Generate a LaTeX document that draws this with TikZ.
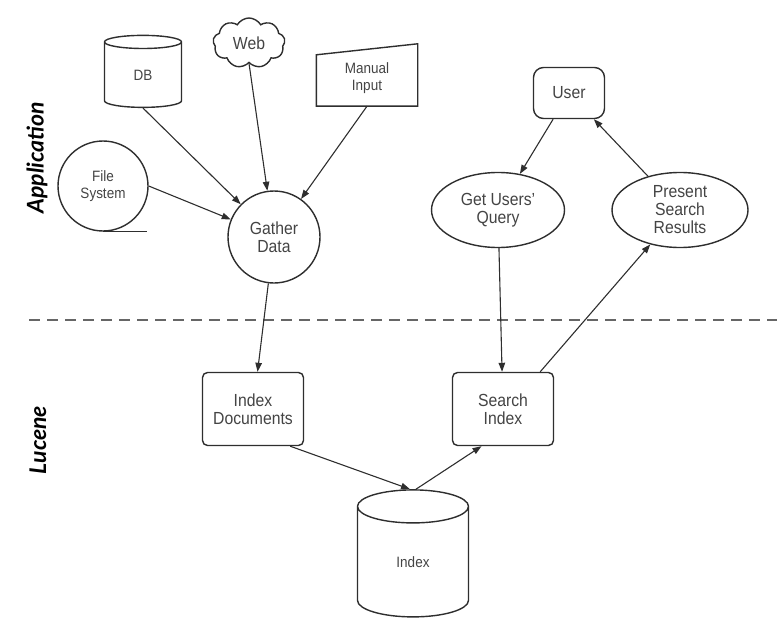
\documentclass[tikz,border=0pt]{standalone}
\usepackage{fontspec}
\setsansfont{Liberation Sans}[FakeStretch=0.9]
\newfontfamily\tierfont{Lato}
\usetikzlibrary{arrows.meta,shapes.geometric,shapes.symbols,backgrounds}

\definecolor{ink}{HTML}{2E2E2E}
\definecolor{word}{HTML}{444444}

\tikzset{
  part/.style={draw=ink, line width=1.4pt, fill=white, inner sep=0pt, align=center, text=word},
  big/.style={font=\sffamily\fontsize{17.5}{18}\selectfont},
  small/.style={font=\sffamily\fontsize{15}{16.5}\selectfont},
  flow/.style={draw=ink, line width=1.1pt, -{Triangle[length=9pt,width=6.5pt]}},
  tier/.style={rotate=90, text=black, font=\tierfont\fontsize{23}{26}\selectfont\bfseries\itshape},
}

\begin{document}
\begin{tikzpicture}[x=1pt,y=-1pt]

\useasboundingbox (0,0) rectangle (777,642);

% application side
\node[part, cylinder, shape border rotate=90, aspect=0.7,
  minimum width=77pt, minimum height=72pt, small] (db) at (143,75) {DB};
\node[part, cloud, cloud puffs=9, cloud puff arc=120, aspect=1.5,
  minimum width=72pt, minimum height=50pt, big] (web) at (249,43) {Web};
\node[small, minimum width=101pt, minimum height=56pt, inner sep=0pt,
  align=center, text=word] (manual) at (367,78) {Manual\\Input};
\begin{scope}[on background layer]
  \draw[part] (manual.south west) -- (manual.south east)
    -- ([yshift=6pt]manual.north east) -- ([yshift=-5pt]manual.north west) -- cycle;
\end{scope}
\node[part, circle, minimum size=90pt, small] (fs) at (103,186) {File\\System};
\draw[draw=ink, line width=1.4pt] (fs.south) -- ++(44,0);
\node[part, circle, minimum size=92pt, big] (gather) at (274,237) {Gather\\Data};

\node[part, rounded corners=10pt, minimum width=71pt, minimum height=51pt, big]
  (user) at (569,93) {User};
\node[part, ellipse, minimum width=133pt, minimum height=75pt, big]
  (query) at (498,210) {Get Users'\\Query};
\node[part, ellipse, minimum width=136pt, minimum height=75pt, big]
  (present) at (680,210) {Present\\Search\\Results};

\node[tier] (app) at (37,158) {Application};

% separator
\coordinate (sepL) at (29,320);
\coordinate (sepR) at (777,320);
\draw[black!60, line width=1.3pt, dash pattern=on 11pt off 7pt] (sepL) -- (sepR);

% lucene side
\node[part, rounded corners=5pt, minimum width=101pt, minimum height=73pt, big]
  (idxdoc) at (253,409) {Index\\Documents};
\node[part, rounded corners=5pt, minimum width=101pt, minimum height=73pt, big]
  (search) at (503,409) {Search\\Index};
\node[part, cylinder, shape border rotate=90, aspect=1.0,
  minimum width=111pt, minimum height=127pt, small] (index) at (413,562) {Index};

\node[tier] (luc) at (38,440) {Lucene};

% connectors
\draw[flow] (db.south) -- (gather);
\draw[flow] (web.south) -- (gather);
\draw[flow] (manual.south) -- (gather);
\draw[flow] (fs.east) -- (gather);
\draw[flow] (gather) -- (idxdoc);
\draw[flow] (user) -- (query);
\draw[flow] (present) -- (user);
\draw[flow] (query) -- (search);
\draw[flow] (search.45) -- (present);
\draw[flow] (idxdoc.-45) -- ([xshift=-3pt]index.north);
\draw[flow, {Triangle[length=9pt,width=6.5pt]}-] (search.-120) -- ([xshift=3pt]index.north);

\end{tikzpicture}
\end{document}
